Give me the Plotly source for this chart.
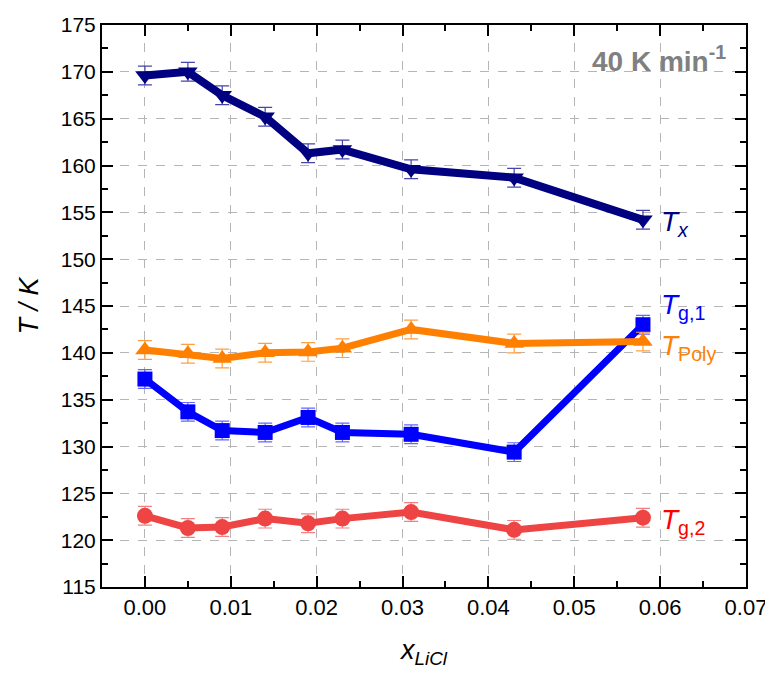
import plotly.graph_objects as go

x_licl = [0.000, 0.005, 0.009, 0.014, 0.019, 0.023, 0.031, 0.043, 0.058]
T_x = [169.6, 170.0, 167.5, 165.2, 161.3, 161.7, 159.6, 158.7, 154.2]
T_x_err = [1.0, 1.0, 1.0, 1.0, 1.0, 1.0, 1.0, 1.0, 1.0]
T_poly = [140.3, 139.9, 139.4, 140.0, 140.1, 140.5, 142.5, 141.0, 141.2]
T_poly_err = [1.0, 1.0, 1.0, 1.0, 1.0, 1.0, 1.0, 1.0, 1.0]
T_g1 = [137.2, 133.7, 131.7, 131.5, 133.1, 131.5, 131.3, 129.4, 143.0]
T_g1_err = [1.0, 1.0, 1.0, 1.0, 1.0, 1.0, 1.0, 1.0, 1.0]
T_g2 = [122.6, 121.3, 121.4, 122.3, 121.8, 122.3, 123.0, 121.1, 122.4]
T_g2_err = [1.0, 1.0, 1.0, 1.0, 1.0, 1.0, 1.0, 1.0, 1.0]

x_ticks = [0.00, 0.01, 0.02, 0.03, 0.04, 0.05, 0.06, 0.07]
y_ticks = list(range(115, 176, 5))

FONT = "Liberation Sans, Arial, sans-serif"

fig = go.Figure()

def add(y, err, color, ecolor, symbol, lw, ms):
    fig.add_trace(go.Scatter(
        x=x_licl, y=y, mode="lines+markers",
        line=dict(color=color, width=lw),
        marker=dict(symbol=symbol, size=ms, color=color),
        error_y=dict(type="data", array=err, visible=True,
                     color=ecolor, thickness=1.2, width=7),
        showlegend=False, cliponaxis=False))

add(T_g2, T_g2_err, "#EE4444", "#F28080", "circle", 7, 16)
add(T_g1, T_g1_err, "#0000FF", "#6666FF", "square", 7, 15)
add(T_poly, T_poly_err, "#FF8000", "#FFA040", "triangle-up", 7, 17)
add(T_x, T_x_err, "#000080", "#4444AA", "triangle-down", 8, 17)

labels = [
    ("<i>T</i><sub><i>x</i></sub>", 153.8, "#000080"),
    ("<i>T</i><sub>g,1</sub>", 144.9, "#0000FF"),
    ("<i>T</i><sub>Poly</sub>", 140.6, "#FF8000"),
    ("<i>T</i><sub>g,2</sub>", 122.0, "#FF0000"),
]
for txt, yy, col in labels:
    fig.add_annotation(x=0.0599, y=yy, xref="x", yref="y", text=txt,
                       showarrow=False, xanchor="left", yanchor="middle",
                       font=dict(family=FONT, size=28, color=col))

fig.add_annotation(x=0.0679, y=171.4, xref="x", yref="y",
                   text="<b>40 K min<sup>-1</sup></b>", showarrow=False,
                   xanchor="right", yanchor="middle",
                   font=dict(family=FONT, size=28, color="#808080"))

axis_common = dict(
    showline=True, linecolor="black", linewidth=2, mirror="allticks",
    ticks="inside", ticklen=11, tickwidth=2, tickcolor="black",
    showgrid=True, gridcolor="#b5b5b5", griddash="dash", gridwidth=1,
    zeroline=False, automargin=False, ticklabeloverflow="allow",
)

fig.update_xaxes(
    range=[-0.005, 0.07], tickvals=x_ticks,
    ticktext=[f"{v:.2f}" for v in x_ticks],
    tickfont=dict(family=FONT, size=22, color="black"),
    minor=dict(ticks="inside", dtick=0.005, tick0=0, ticklen=6, tickwidth=2, tickcolor="black", showgrid=False),
    title=dict(text="<i>x</i><sub><i>LiCl</i></sub>", standoff=21,
               font=dict(family=FONT, size=27, color="black")),
    **axis_common)
fig.update_yaxes(
    range=[115, 175], tickvals=y_ticks,
    tickfont=dict(family=FONT, size=21, color="black"),
    minor=dict(ticks="inside", dtick=2.5, tick0=115, ticklen=6, tickwidth=2, tickcolor="black", showgrid=False),
    title=dict(text="<i>T / K</i>", standoff=14,
               font=dict(family=FONT, size=27, color="black")),
    **axis_common)

fig.update_layout(
    width=765, height=667,
    margin=dict(l=94, r=27, t=17, b=88),
    plot_bgcolor="white", paper_bgcolor="white",
)

fig.write_html("out.html")
